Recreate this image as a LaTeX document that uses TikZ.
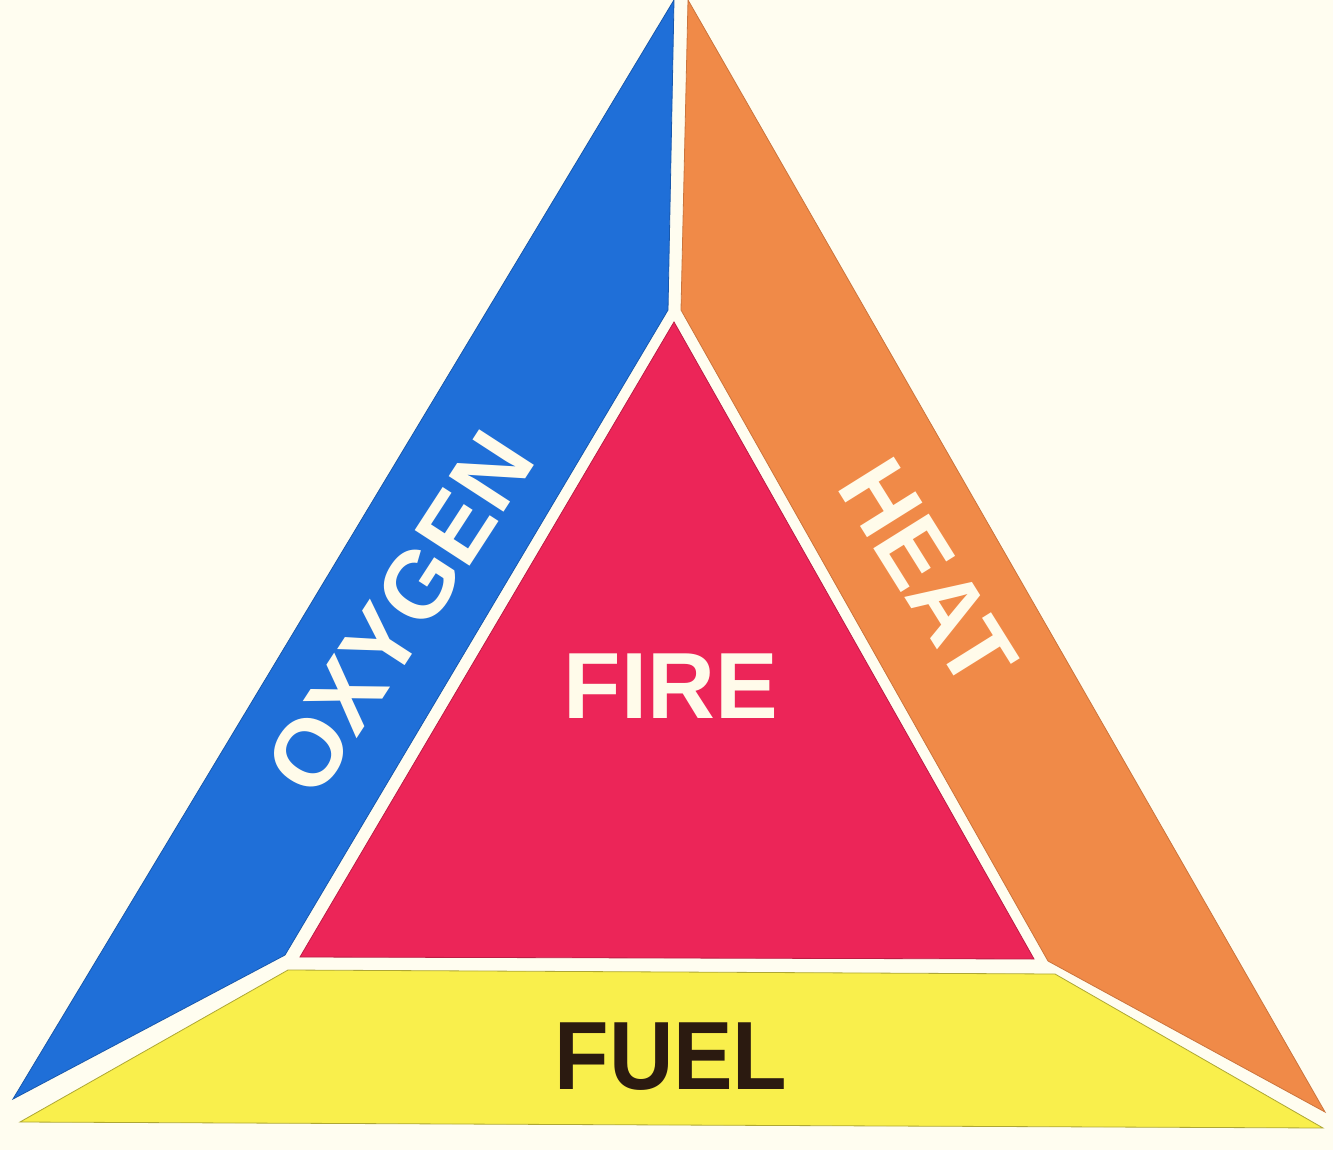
\documentclass[tikz,border=0pt]{standalone}
\usepackage{fontspec}
\setmainfont{Liberation Sans}
\definecolor{bgcream}{HTML}{FFFDF0}
\definecolor{oxyblue}{HTML}{1F6FD8}
\definecolor{heatorange}{HTML}{F08A48}
\definecolor{firered}{HTML}{EC2558}
\definecolor{fuelyellow}{HTML}{F9EF4C}
\definecolor{textcream}{HTML}{FFFBEA}
\definecolor{fuelbrown}{HTML}{2B1A10}
\tikzset{
  piece/.style={line width=0.8pt, line join=miter},
  lbl/.style={inner sep=0pt, font=\fontsize{95}{100}\selectfont\bfseries, text=textcream},
}
\begin{document}
\begin{tikzpicture}[x=1pt,y=-1pt]
\fill[bgcream] (0,0) rectangle (1333,1150);
\useasboundingbox (0,0) rectangle (1333,1150);
% oxygen (blue)
\filldraw[piece, fill=oxyblue, draw=oxyblue!80!black] (674,0) -- (668,310) -- (285,955) -- (13,1099) -- cycle;
% heat (orange)
\filldraw[piece, fill=heatorange, draw=heatorange!85!black] (688,0) -- (681,310) -- (1048,961) -- (1325,1112) -- cycle;
% fire (red)
\filldraw[piece, fill=firered, draw=firered!80!black] (674,322) -- (1034,959) -- (300,957) -- cycle;
% fuel (yellow)
\filldraw[piece, fill=fuelyellow, draw=fuelyellow!70!black] (288,970) -- (1055,974) -- (1323,1128) -- (20,1122) -- cycle;
% labels
\node[lbl, font=\fontsize{94}{100}\selectfont\bfseries] (fire) at (671,686) {FIRE};
\node[lbl, rotate=57] (oxygen) at (400,613) {OXYGEN};
\node[lbl, rotate=-58, xscale=0.97] (heat) at (928,573) {HEAT};
\node[inner sep=0pt, text=fuelbrown, xscale=0.92, font=\fontsize{97}{100}\selectfont\bfseries] (fuel) at (671,1057) {FUEL};
\end{tikzpicture}
\end{document}
